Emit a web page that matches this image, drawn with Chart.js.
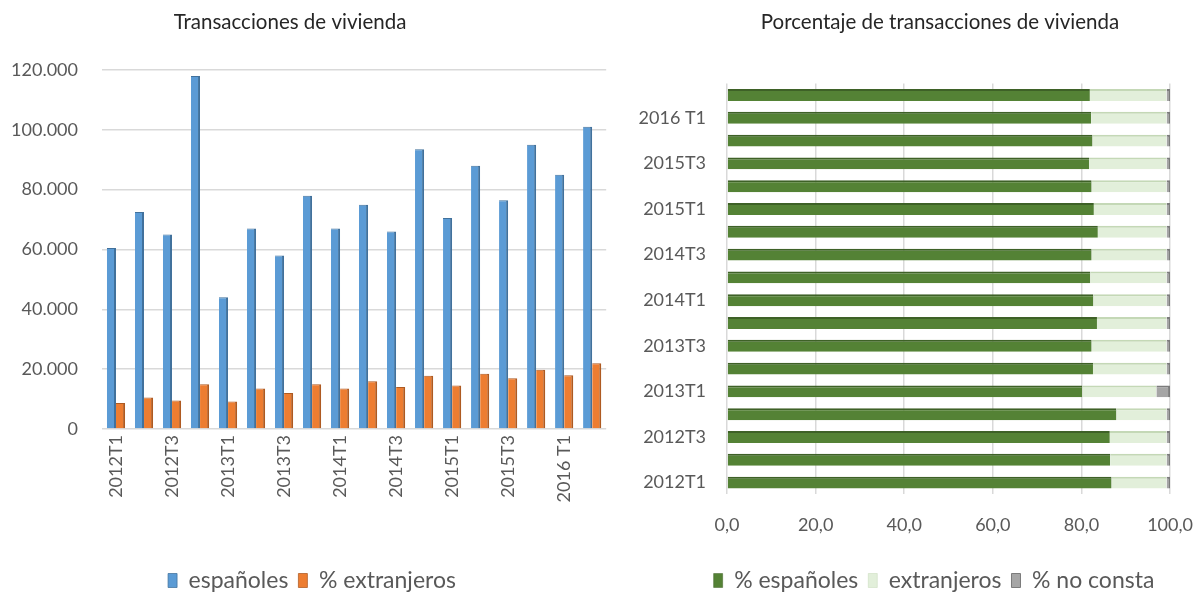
<!DOCTYPE html>
<html>
<head>
<meta charset="utf-8">
<script src="https://cdn.jsdelivr.net/npm/chart.js@4"></script>
<style>
  html, body { margin: 0; padding: 0; background: #fff; overflow: hidden; }
  #wrap { position: relative; width: 1195px; height: 593px; overflow: hidden; }
  #left { position: absolute; left: 0; top: 0; }
  #right { position: absolute; left: 620px; top: 0; }
</style>
</head>
<body>
<div id="wrap">
  <canvas id="left" width="620" height="593"></canvas>
  <canvas id="right" width="575" height="593"></canvas>
</div>
<script>
// trimestres (2012T1 .. 2016 T2)
var quarters = ['2012T1','2012T2','2012T3','2012T4','2013T1','2013T2','2013T3','2013T4',
  '2014T1','2014T2','2014T3','2014T4','2015T1','2015T2','2015T3','2015T4','2016 T1','2016 T2'];

// transacciones de vivienda
var espanoles = [60500, 72500, 65000, 118000, 44000, 67000, 58000, 78000, 67000,
  75000, 66000, 93500, 70500, 88000, 76500, 95000, 85000, 101000];
var extranjeros = [8700, 10500, 9500, 15000, 9200, 13500, 12000, 15000, 13500,
  16000, 14000, 17800, 14500, 18500, 17000, 19800, 18000, 22000];

// porcentajes
var pctEspanoles = [86.8, 86.5, 86.4, 87.9, 80.2, 82.6, 82.3, 83.5, 82.7,
  82.0, 82.3, 83.7, 82.8, 82.3, 81.7, 82.5, 82.2, 81.9];
var pctExtranjeros = [12.4, 12.7, 12.8, 11.3, 16.7, 16.6, 16.9, 15.7, 16.5,
  17.2, 16.9, 15.5, 16.4, 16.9, 17.5, 16.7, 17.0, 17.3];
var pctNoConsta = [0.8, 0.8, 0.8, 0.8, 3.1, 0.8, 0.8, 0.8, 0.8,
  0.8, 0.8, 0.8, 0.8, 0.8, 0.8, 0.8, 0.8, 0.8];

var leftTitle = 'Transacciones de vivienda';
var rightTitle = 'Porcentaje de transacciones de vivienda';

var FONT = 'Lato';
var txt = '#595959';

// title / legend have no margin option, so nudge them after layout
var nudge = {
  id: 'nudge',
  afterLayout: function (chart, args, opts) {
    var t = chart.titleBlock, lg = chart.legend;
    if (t) { t.left += opts.titleDx || 0; t.right += opts.titleDx || 0; }
    if (lg) {
      lg.left += opts.legendDx || 0; lg.right += opts.legendDx || 0;
      lg.top += opts.legendDy || 0; lg.bottom += opts.legendDy || 0;
    }
  }
};

function everyOther(val, i) {
  return i % 2 === 0 ? quarters[i] : '';
}

var legendLabels = {color: txt, font: {family: FONT, size: 23}, boxWidth: 9, boxHeight: 14, padding: 10};

var ctxL = document.getElementById('left').getContext('2d');
var barsLeft = new Chart(ctxL, {
  type: 'bar',
  plugins: [nudge],
  data: {
    labels: quarters,
    datasets: [{
      label: 'españoles',
      data: espanoles,
      backgroundColor: '#5b9bd5',
      borderColor: '#41719c',
      borderWidth: {top: 1, right: 2, left: 0, bottom: 0},
      borderSkipped: false,
      categoryPercentage: 0.65,
      barPercentage: 1
    }, {
      label: '% extranjeros',
      data: extranjeros,
      backgroundColor: '#ed7d31',
      borderColor: '#ae5a21',
      borderWidth: {top: 1, right: 2, left: 0, bottom: 0},
      borderSkipped: false,
      categoryPercentage: 0.65,
      barPercentage: 1
    }]
  },
  options: {
    responsive: false,
    animation: false,
    layout: {padding: {left: 0, right: 8, top: 0, bottom: 0}},
    plugins: {
      title: {
        display: true, text: leftTitle, color: '#262626',
        font: {family: FONT, size: 20.5, weight: 'normal'},
        padding: {top: 10, bottom: 35.4}
      },
      legend: {position: 'bottom', labels: legendLabels},
      tooltip: {enabled: false},
      nudge: {titleDx: -16, legendDx: 6, legendDy: 9}
    },
    scales: {
      x: {
        grid: {display: false, drawTicks: false},
        border: {display: false},
        ticks: {
          color: txt, font: {family: FONT, size: 18},
          autoSkip: false, minRotation: 90, maxRotation: 90, padding: 6,
          callback: everyOther
        },
        afterFit: function (s) { s.height = 121; }
      },
      y: {
        min: 0, max: 120000,
        grid: {color: '#d9d9d9', lineWidth: 1.5, drawTicks: false},
        border: {display: false},
        ticks: {
          stepSize: 20000, color: txt, font: {family: FONT, size: 18}, padding: 24,
          callback: function (v) { return String(v).replace(/\B(?=(\d{3})+(?!\d))/g, '.'); }
        },
        afterFit: function (s) { s.width = 102; }
      }
    }
  }
});

var ctxR = document.getElementById('right').getContext('2d');
var barsRight = new Chart(ctxR, {
  type: 'bar',
  plugins: [nudge],
  data: {
    labels: quarters,
    datasets: [{
      label: '% españoles',
      data: pctEspanoles,
      backgroundColor: '#548235',
      borderColor: '#3e6127',
      borderWidth: {top: 2, right: 0, left: 0, bottom: 0},
      borderSkipped: false
    }, {
      label: 'extranjeros',
      data: pctExtranjeros,
      backgroundColor: '#e2efda',
      borderColor: '#c4d8b6',
      borderWidth: {top: 2, right: 0, left: 0, bottom: 0},
      borderSkipped: false
    }, {
      label: '% no consta',
      data: pctNoConsta,
      backgroundColor: '#a5a5a5',
      borderColor: '#7b7b7b',
      borderWidth: {top: 2, right: 2, left: 0, bottom: 0},
      borderSkipped: false
    }]
  },
  options: {
    responsive: false,
    animation: false,
    indexAxis: 'y',
    datasets: {bar: {categoryPercentage: 1, barPercentage: 0.52}},
    layout: {padding: {left: 0, right: 3, top: 0, bottom: 0}},
    plugins: {
      title: {
        display: true, text: rightTitle, color: '#262626',
        font: {family: FONT, size: 20.5, weight: 'normal'},
        padding: {top: 10, bottom: 49}
      },
      legend: {position: 'bottom', labels: legendLabels},
      tooltip: {enabled: false},
      nudge: {titleDx: 34, legendDx: 28, legendDy: 9}
    },
    scales: {
      x: {
        stacked: true, min: 0, max: 100,
        grid: {color: '#d9d9d9', lineWidth: 1.5, drawTicks: true, tickLength: 18, tickColor: 'rgba(0,0,0,0)'},
        border: {display: false},
        ticks: {
          stepSize: 20, color: txt, font: {family: FONT, size: 18}, padding: 2,
          callback: function (v) { return v.toFixed(1).replace('.', ','); }
        },
        afterFit: function (s) { s.height = 56; }
      },
      y: {
        stacked: true, reverse: true,
        grid: {display: false, drawTicks: false},
        border: {display: false},
        ticks: {
          color: txt, font: {family: FONT, size: 18}, padding: 21,
          autoSkip: false, callback: everyOther
        },
        afterFit: function (s) { s.width = 107; }
      }
    }
  }
});
</script>
</body>
</html>
